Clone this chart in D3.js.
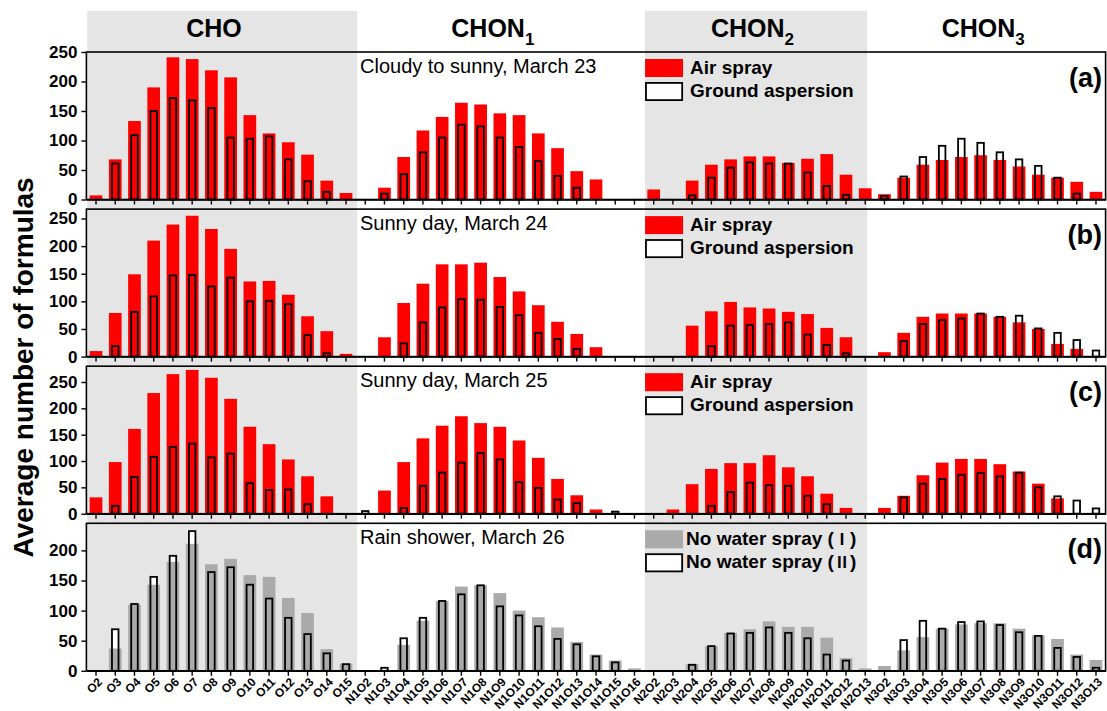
<!DOCTYPE html>
<meta charset="utf-8">
<title>Average number of formulas</title>
<script src="https://cdn.jsdelivr.net/npm/d3@7"></script>
<style>
  body { margin: 0; background: #fff; }
  svg text { font-family: "Liberation Sans", Arial, sans-serif; fill: #000; }
  .axis path, .axis line { stroke: #000; stroke-width: 1.4px; }
  .axis text { font-weight: bold; }
</style>
<body>
<div id="chart"></div>
<script>

// categories (53), in order along the x axis
var categories = [
  "O2","O3","O4","O5","O6","O7","O8","O9","O10","O11","O12","O13","O14","O15",
  "N1O2","N1O3","N1O4","N1O5","N1O6","N1O7","N1O8","N1O9","N1O10","N1O11","N1O12","N1O13","N1O14","N1O15","N1O16",
  "N2O2","N2O3","N2O4","N2O5","N2O6","N2O7","N2O8","N2O9","N2O10","N2O11","N2O12","N2O13",
  "N3O2","N3O3","N3O4","N3O5","N3O6","N3O7","N3O8","N3O9","N3O10","N3O11","N3O12","N3O13"
];

// group headers
var groupNames = ["CHO", "CHON", "CHON", "CHON"];
var groupSubs = ["", "1", "2", "3"];
var groupFirst = ["O2", "N1O2", "N2O2", "N3O2"];
var groupLast = ["O15", "N1O16", "N2O13", "N3O13"];
var shadedGroups = [0, 2];

// panels
var panelLabels = ["(a)", "(b)", "(c)", "(d)"];
var panelNotes = ["Cloudy to sunny, March 23", "Sunny day, March 24", "Sunny day, March 25", "Rain shower, March 26"];
var panelMax = [250, 267, 280, 245];
var panelTicks = [[0,50,100,150,200,250], [0,50,100,150,200,250], [0,50,100,150,200,250], [0,50,100,150,200]];
var legendNames = [
  ["Air spray", "Ground aspersion"],
  ["Air spray", "Ground aspersion"],
  ["Air spray", "Ground aspersion"],
  ["No water spray", "No water spray"]
];
var legendNumerals = [["", ""], ["", ""], ["", ""], ["\u2160", "\u2161"]];

// (a) March 23
var airA = [7,68,133,190,241,238,219,207,143,112,97,76,32,11,
  0,20,72,117,140,164,161,146,143,112,87,48,34,0,0,
  17,0,32,59,68,73,73,62,69,77,42,19,
  9,37,59,67,72,75,67,56,42,37,30,13];
var groundA = [0,61,109,150,172,168,155,105,103,107,68,31,13,0,
  0,10,43,80,105,127,124,105,89,65,40,20,0,0,0,
  0,0,7,37,54,63,61,61,46,23,8,0,
  6,39,72,91,103,96,80,68,57,37,10,0];

// (b) March 24
var airB = [10,79,149,210,239,255,231,195,136,137,112,73,46,5,
  0,35,97,132,167,167,170,144,118,93,63,41,17,0,0,
  0,0,56,82,99,89,87,81,77,52,35,0,
  8,43,72,78,78,78,72,62,50,23,14,0];
var groundB = [0,19,81,109,147,148,127,143,100,101,95,39,6,0,
  0,0,24,62,89,104,103,90,75,43,32,14,0,0,0,
  0,0,0,19,56,57,59,62,40,21,6,0,
  0,28,59,66,69,78,72,74,51,43,30,11];

// (c) March 25
var airC = [31,98,161,229,265,273,258,218,165,132,103,71,33,0,
  0,44,98,143,167,185,172,165,139,106,66,35,8,0,0,
  0,8,56,85,96,96,111,88,71,38,11,0,
  11,34,73,97,104,104,94,80,57,29,0,0];
var groundC = [0,15,70,108,127,133,107,114,58,45,46,18,0,0,
  5,0,11,53,78,97,115,103,60,49,27,20,0,4,0,
  0,0,0,15,41,59,54,53,34,18,0,0,
  0,31,57,66,74,77,71,78,50,33,25,10];

// (d) March 26
var noSprayI = [0,37,110,143,181,211,177,186,159,156,121,96,36,12,
  0,0,43,83,116,140,142,129,100,89,72,48,27,17,4,
  0,0,11,41,63,69,82,73,73,55,21,4,
  8,34,56,70,77,79,79,70,59,53,27,18];
var noSprayII = [0,69,111,156,191,232,164,172,143,120,88,61,29,11,
  0,5,54,88,116,127,142,107,92,74,53,44,24,14,0,
  0,0,10,41,62,63,72,63,54,27,17,0,
  0,51,83,70,81,82,76,64,58,38,23,5];

var filledSeries = [airA, airB, airC, noSprayI];
var outlineSeries = [groundA, groundB, groundC, noSprayII];
var filledColor = ["#ff0000", "#ff0000", "#ff0000", "#aaaaaa"];

var width = 1107, height = 711;
var left = 86.4, right = 1105.6;
var firstTop = 52, panelH = 147.5, panelStep = 157.1;
var bandColor = "#e5e5e5";

var svg = d3.select("#chart").append("svg")
  .attr("width", width)
  .attr("height", height);

var x = d3.scaleBand()
  .domain(categories)
  .range([left, right])
  .padding(0);
var step = x.step();
var wide = step * 0.66, narrow = step * 0.34;

var lastBottom = firstTop + 3 * panelStep + panelH;

// shaded group bands
shadedGroups.forEach(function(g) {
  var x0 = x(groupFirst[g]);
  var x1 = g == 0 ? x(groupLast[g]) + step + 1.5 : x(groupLast[g]) + step * 0.6;
  svg.append("rect")
    .attr("x", x0 + 0.8)
    .attr("y", 11)
    .attr("width", x1 - x0 - 0.8)
    .attr("height", lastBottom - 11)
    .attr("fill", bandColor);
});

// group headers
groupNames.forEach(function(name, g) {
  var cx = (x(groupFirst[g]) + x(groupLast[g]) + step) / 2 - 7;
  var t = svg.append("text")
    .attr("x", cx)
    .attr("y", 37)
    .attr("text-anchor", "middle")
    .style("font-size", "25px")
    .style("font-weight", "bold")
    .text(name);
  if (groupSubs[g]) {
    t.append("tspan")
      .attr("dy", 8)
      .style("font-size", "17px")
      .text(groupSubs[g]);
  }
});

// panels
panelLabels.forEach(function(label, p) {
  var top = firstTop + p * panelStep;
  var bottom = top + panelH;

  var y = d3.scaleLinear()
    .domain([0, panelMax[p]])
    .range([bottom, top]);

  var g = svg.append("g");

  var filled = filledSeries[p], outline = outlineSeries[p];

  // white backing for outline bars
  g.selectAll(".back")
    .data(categories)
    .enter()
    .filter(function(d, i) { return outline[i] > 0; })
    .append("rect")
      .attr("x", function(d) { return x(d) + (step - narrow) / 2; })
      .attr("y", function(d) { return y(outline[categories.indexOf(d)]); })
      .attr("width", narrow)
      .attr("height", function(d) { return bottom - y(outline[categories.indexOf(d)]); })
      .attr("fill", "#fff");

  g.selectAll(".fill")
    .data(categories)
    .enter()
    .filter(function(d, i) { return filled[i] > 0; })
    .append("rect")
      .attr("x", function(d) { return x(d) + (step - wide) / 2; })
      .attr("y", function(d) { return y(filled[categories.indexOf(d)]); })
      .attr("width", wide)
      .attr("height", function(d) { return bottom - y(filled[categories.indexOf(d)]); })
      .attr("fill", filledColor[p]);

  g.selectAll(".line")
    .data(categories)
    .enter()
    .filter(function(d, i) { return outline[i] > 0; })
    .append("rect")
      .attr("x", function(d) { return x(d) + (step - narrow) / 2; })
      .attr("y", function(d) { return y(outline[categories.indexOf(d)]); })
      .attr("width", narrow)
      .attr("height", function(d) { return bottom - y(outline[categories.indexOf(d)]); })
      .attr("fill", "none")
      .attr("stroke", "#000")
      .attr("stroke-width", 1.8);

  // frame
  g.append("rect")
    .attr("x", left)
    .attr("y", top)
    .attr("width", right - left)
    .attr("height", panelH)
    .attr("fill", "none")
    .attr("stroke", "#000")
    .attr("stroke-width", 1.6);

  // y axis
  g.append("g")
    .attr("class", "axis")
    .attr("transform", "translate(" + left + ",0)")
    .call(d3.axisLeft(y).tickValues(panelTicks[p]).tickSize(5).tickSizeOuter(0).tickPadding(4))
    .call(function(a) { a.select(".domain").remove(); })
    .selectAll("text")
      .style("font-size", "17px");

  // x axis
  var xa = g.append("g")
    .attr("class", "axis")
    .attr("transform", "translate(0," + bottom + ")")
    .call(d3.axisBottom(x).tickSize(5).tickSizeOuter(0));
  if (p < 3) {
    xa.selectAll("text").remove();
  } else {
    xa.selectAll("text")
      .style("font-size", "12px")
      .style("text-anchor", "end")
      .attr("x", 0)
      .attr("y", 0)
      .attr("dy", "0.35em")
      .attr("transform", "translate(4,9) rotate(-45)");
  }

  // note
  g.append("text")
    .attr("x", 360)
    .attr("y", top + 21)
    .style("font-size", "20px")
    .text(panelNotes[p]);

  // legend
  var lx = x("N2O2") + 1;
  g.append("rect")
    .attr("x", lx)
    .attr("y", top + 7)
    .attr("width", 38)
    .attr("height", 18)
    .attr("fill", filledColor[p]);
  g.append("rect")
    .attr("x", lx + 0.9)
    .attr("y", top + 30.9)
    .attr("width", 36.2)
    .attr("height", 17.2)
    .attr("fill", "#fff")
    .attr("stroke", "#000")
    .attr("stroke-width", 1.8);
  legendNames[p].forEach(function(name, k) {
    var t = g.append("text")
      .attr("x", lx + (p == 3 ? 41 : 45))
      .attr("y", top + 22 + k * 23)
      .style("font-size", "19px")
      .style("font-weight", "bold")
      .text(name);
    if (legendNumerals[p][k]) {
      t.append("tspan").text(" (");
      t.append("tspan")
        .style("font-family", "'Noto Sans CJK SC', 'DejaVu Serif', serif")
        .style("font-size", "16px")
        .text(legendNumerals[p][k]);
      t.append("tspan").text(")");
    }
  });

  // panel label
  g.append("text")
    .attr("x", 1102)
    .attr("y", top + 35)
    .attr("text-anchor", "end")
    .style("font-size", "27px")
    .style("font-weight", "bold")
    .text(label);
});

// y axis title
svg.append("text")
  .attr("transform", "translate(33," + ((firstTop + lastBottom) / 2 + 6) + ") rotate(-90)")
  .attr("text-anchor", "middle")
  .style("font-size", "28px")
  .style("font-weight", "bold")
  .text("Average number of formulas");

</script>
